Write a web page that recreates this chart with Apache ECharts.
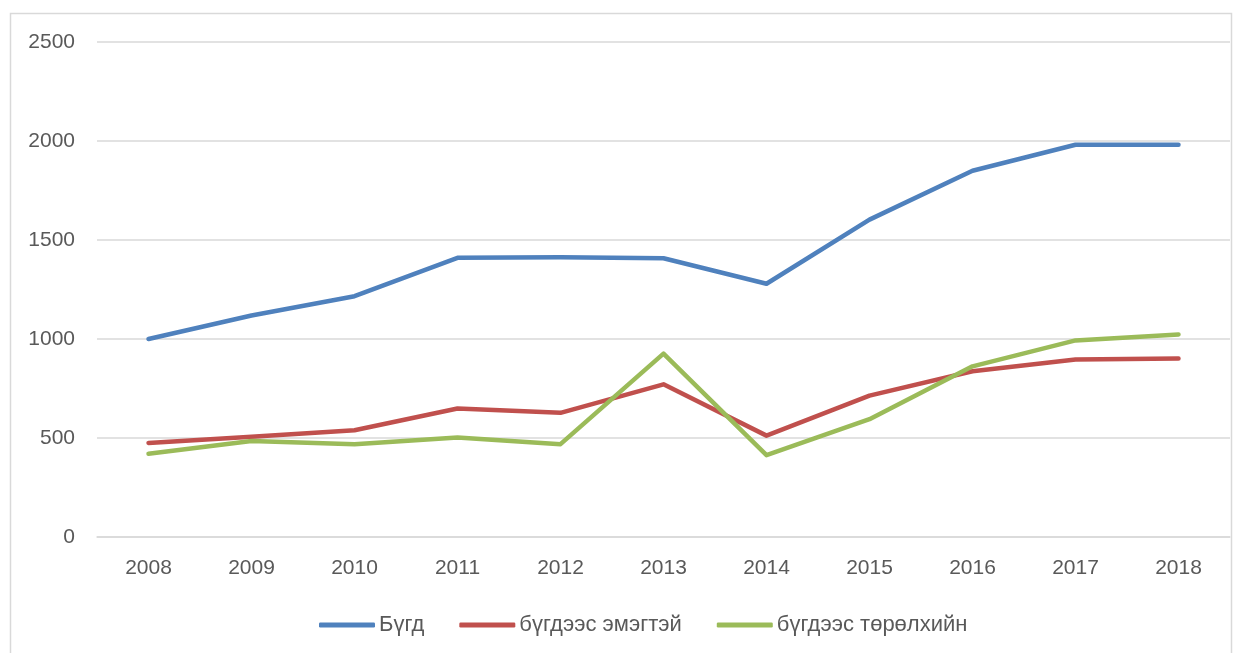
<!DOCTYPE html>
<html><head><meta charset="utf-8">
<script src="https://cdn.jsdelivr.net/npm/echarts@6/dist/echarts.min.js"></script>
<style>html,body{margin:0;padding:0;background:#fff}#c{width:1245px;height:653px}</style>
</head><body><div id="c"></div>
<script>
const years = ['2008','2009','2010','2011','2012','2013','2014','2015','2016','2017','2018'];
const total = [1000,1119,1216,1410,1413,1408,1279,1603,1850,1981,1981];
const women = [475,506,539,649,627,771,512,714,837,896,901];
const native = [420,485,469,503,469,926,413,595,862,993,1023];
const seriesNames = ['Бүгд','бүгдээс эмэгтэй','бүгдээс төрөлхийн'];
const colors = ['#4F81BD','#C0504D','#9BBB59'];
const font = 'Liberation Sans, Arial, sans-serif';
const chart = echarts.init(document.getElementById('c'), null, {renderer:'canvas'});
const mk = (name, data, color) => ({
  name, type:'line', data, symbol:'none', color,
  lineStyle:{width:4.5, color, cap:'round', join:'round'}
});
chart.setOption({
  animation:false,
  graphic:[{type:'rect', shape:{x:10.5,y:13.5,width:1221,height:660}, style:{fill:'none',stroke:'#d9d9d9',lineWidth:1.5}, z:-1}],
  grid:{left:97, right:15, top:42, bottom:116},
  legend:{top:609, left:314, itemWidth:56, itemHeight:5, itemGap:35,
    icon:'roundRect',
    textStyle:{fontFamily:font, fontSize:22, color:'#595959', padding:[0,0,0,-1]},
    data:seriesNames},
  xAxis:{type:'category', data:years, boundaryGap:true,
    axisLine:{lineStyle:{color:'#d9d9d9', width:1.5}}, axisTick:{show:false},
    axisLabel:{fontFamily:font, fontSize:21, color:'#595959', margin:21}},
  yAxis:{type:'value', min:0, max:2500, interval:500,
    axisLine:{show:false}, axisTick:{show:false},
    splitLine:{lineStyle:{color:'#d9d9d9', width:1.5}},
    axisLabel:{fontFamily:font, fontSize:21, color:'#595959', margin:22, formatter:v=>String(v)}},
  series:[mk(seriesNames[0], total, colors[0]), mk(seriesNames[1], women, colors[1]), mk(seriesNames[2], native, colors[2])]
});
</script></body></html>
